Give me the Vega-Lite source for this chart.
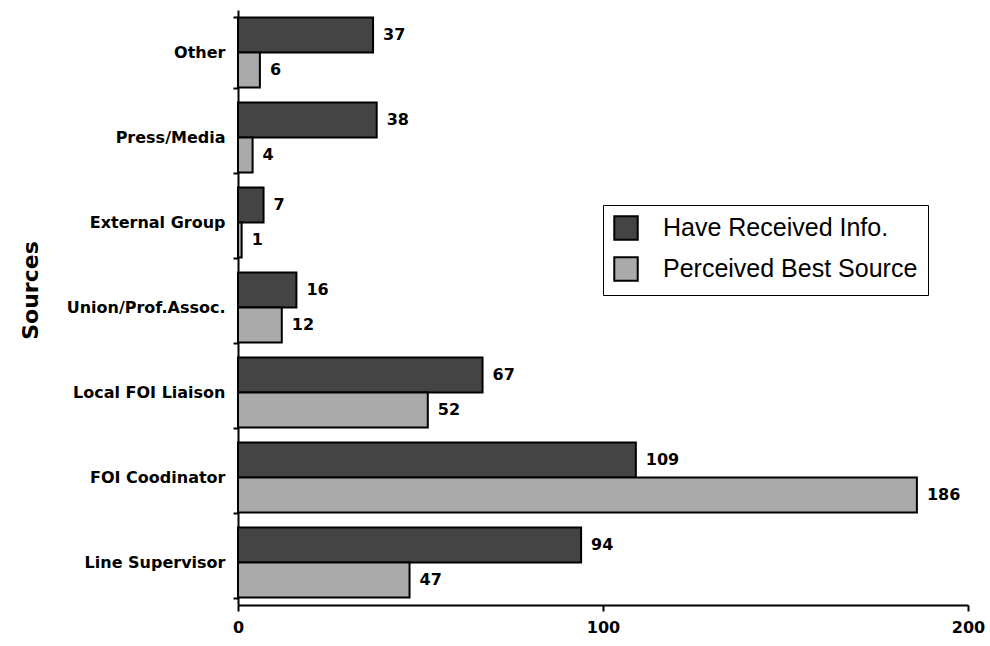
{
  "$schema": "https://vega.github.io/schema/vega-lite/v6.json",
  "autosize": {"type": "none"},
  "width": 730,
  "height": 595,
  "padding": {"left": 238, "top": 10, "right": 22, "bottom": 41},
  "background": "white",
  "config": {"view": {"stroke": null}},
  "data": {
    "values": [
      {"source": "Other", "series": "Have Received Info.", "value": 37},
      {"source": "Other", "series": "Perceived Best Source", "value": 6},
      {"source": "Press/Media", "series": "Have Received Info.", "value": 38},
      {"source": "Press/Media", "series": "Perceived Best Source", "value": 4},
      {"source": "External Group", "series": "Have Received Info.", "value": 7},
      {"source": "External Group", "series": "Perceived Best Source", "value": 1},
      {"source": "Union/Prof.Assoc.", "series": "Have Received Info.", "value": 16},
      {"source": "Union/Prof.Assoc.", "series": "Perceived Best Source", "value": 12},
      {"source": "Local FOI Liaison", "series": "Have Received Info.", "value": 67},
      {"source": "Local FOI Liaison", "series": "Perceived Best Source", "value": 52},
      {"source": "FOI Coodinator", "series": "Have Received Info.", "value": 109},
      {"source": "FOI Coodinator", "series": "Perceived Best Source", "value": 186},
      {"source": "Line Supervisor", "series": "Have Received Info.", "value": 94},
      {"source": "Line Supervisor", "series": "Perceived Best Source", "value": 47}
    ]
  },
  "encoding": {
    "y": {
      "field": "source",
      "type": "nominal",
      "sort": ["Other", "Press/Media", "External Group", "Union/Prof.Assoc.", "Local FOI Liaison", "FOI Coodinator", "Line Supervisor"],
      "scale": {"paddingInner": 0.176, "paddingOuter": 0.088},
      "axis": {
        "title": "Sources",
        "titleFont": "DejaVu Sans",
        "titleFontWeight": "bold",
        "titleFontSize": 22,
        "titleColor": "black",
        "titleX": -208,
        "titleY": 280,
        "titleBaseline": "middle",
        "tickBand": "extent",
        "tickSize": 5,
        "tickColor": "black",
        "tickWidth": 2,
        "domainColor": "black",
        "domainWidth": 2,
        "labelFont": "DejaVu Sans",
        "labelFontWeight": "bold",
        "labelFontSize": 16,
        "labelColor": "black",
        "labelPadding": 8,
        "labelLimit": 300,
        "grid": false
      }
    },
    "yOffset": {
      "field": "series",
      "type": "nominal",
      "sort": ["Have Received Info.", "Perceived Best Source"]
    },
    "x": {
      "field": "value",
      "type": "quantitative",
      "scale": {"domain": [0, 200], "nice": false},
      "axis": {
        "title": null,
        "values": [0, 100, 200],
        "grid": false,
        "tickSize": 6,
        "tickColor": "black",
        "tickWidth": 2,
        "domainColor": "black",
        "domainWidth": 2,
        "labelFont": "DejaVu Sans",
        "labelFontWeight": "bold",
        "labelFontSize": 16,
        "labelColor": "black",
        "labelPadding": 8,
        "labelFlush": false
      }
    }
  },
  "layer": [
    {
      "mark": {"type": "bar", "stroke": "black", "strokeWidth": 2},
      "encoding": {
        "fill": {
          "field": "series",
          "type": "nominal",
          "sort": ["Have Received Info.", "Perceived Best Source"],
          "scale": {"range": ["#444444", "#aaaaaa"]},
          "legend": {
            "title": null,
            "orient": "none",
            "legendX": 365,
            "legendY": 195,
            "padding": 10,
            "strokeColor": "black",
            "fillColor": "white",
            "symbolType": "square",
            "symbolSize": 550,
            "symbolStrokeColor": "black",
            "symbolStrokeWidth": 2,
            "labelFont": "Liberation Sans",
            "labelFontSize": 25,
            "labelColor": "black",
            "labelOffset": 24,
            "labelLimit": 400,
            "rowPadding": 9
          }
        }
      }
    },
    {
      "mark": {
        "type": "text",
        "align": "left",
        "baseline": "middle",
        "dx": 10,
        "font": "DejaVu Sans",
        "fontWeight": "bold",
        "fontSize": 16,
        "color": "black"
      },
      "encoding": {"text": {"field": "value", "type": "quantitative"}}
    }
  ]
}
